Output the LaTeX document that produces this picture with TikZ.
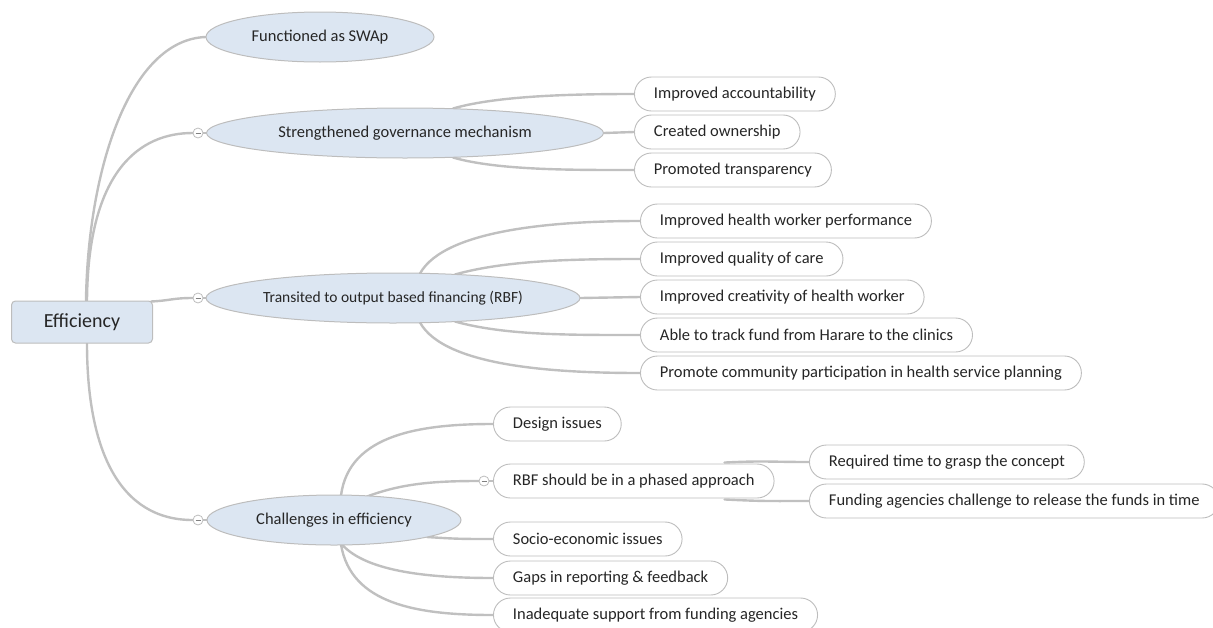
\documentclass[tikz,border=0pt]{standalone}
\usepackage{fontspec}
\setmainfont{Carlito}
\usetikzlibrary{shapes.geometric}
\definecolor{nodefill}{HTML}{DCE6F2}
\definecolor{nodeline}{HTML}{BDBDBD}
\definecolor{conncol}{HTML}{C0C0C0}
\definecolor{txt}{HTML}{262626}
\pgfdeclarelayer{bg}
\pgfsetlayers{bg,main}
\tikzset{
  rootbox/.style={rectangle, rounded corners=4pt, draw=nodeline, line width=1pt, fill=nodefill,
    minimum width=141pt, minimum height=42pt, inner sep=0pt, text=txt, font=\fontsize{20}{24}\selectfont},
  mainell/.style={ellipse, draw=nodeline, line width=1pt, fill=nodefill, minimum height=50pt,
    inner sep=0pt, text=txt, font=\fontsize{16.5}{20}\selectfont},
  leaf/.style={rectangle, rounded corners=17pt, draw=nodeline, line width=0.9pt, fill=white,
    minimum height=34pt, inner xsep=19.5pt, inner ysep=0pt, anchor=west, text=txt,
    font=\fontsize{16.5}{20}\selectfont},
  collapse/.style={circle, draw=nodeline, line width=0.8pt, fill=white, minimum size=10pt, inner sep=0pt,
    path picture={\draw[gray, line width=0.7pt] ([xshift=-2.5pt]path picture bounding box.center) -- ([xshift=2.5pt]path picture bounding box.center);}},
  conn/.style={draw=conncol, line width=2.4pt, line cap=round}
}
\begin{document}
\begin{tikzpicture}[x=1pt, y=-1pt]
\useasboundingbox (0,0) rectangle (1213,627);

% root
\node[rootbox] (root) at (82,322) {Efficiency};

% main branches
\node[mainell, minimum width=228pt] (swap) at (320,37) {\makebox[0pt]{Functioned as SWAp}};
\node[mainell, minimum width=397pt] (gov) at (405,133) {\makebox[0pt]{Strengthened governance mechanism}};
\node[mainell, minimum width=374pt, font=\fontsize{15.5}{19}\selectfont] (rbf) at (393,298) {\makebox[0pt]{Transited to output based financing (RBF)}};
\node[mainell, minimum width=254pt] (chal) at (334,520) {\makebox[0pt]{Challenges in efficiency}};

% collapse markers
\node[collapse] (cg) at (198,133) {};
\node[collapse] (cr) at (198,298) {};
\node[collapse] (cc) at (198,520) {};
\node[collapse] (cp) at (484,481) {};

% governance leaves
\node[leaf] (acc) at (634,94) {Improved accountability};
\node[leaf] (own) at (634,132) {Created ownership};
\node[leaf] (tra) at (634,170) {Promoted transparency};

% rbf leaves
\node[leaf] (hwp) at (640,221) {Improved health worker performance};
\node[leaf] (qoc) at (640,259) {Improved quality of care};
\node[leaf] (cre) at (640,297) {Improved creativity of health worker};
\node[leaf] (trk) at (640,335) {Able to track fund from Harare to the clinics};
\node[leaf] (com) at (640,373) {Promote community participation in health service planning};

% challenges leaves
\node[leaf] (des) at (493,424) {Design issues};
\node[leaf] (pha) at (493,481) {RBF should be in a phased approach};
\node[leaf] (soc) at (493,539) {Socio-economic issues};
\node[leaf] (gap) at (493,578) {Gaps in reporting \& feedback};
\node[leaf] (ina) at (493,615) {Inadequate support from funding agencies};

% phased leaves
\node[leaf] (req) at (809,462) {Required time to grasp the concept};
\node[leaf] (fun) at (809,501) {Funding agencies challenge to release the funds in time};

\begin{pgfonlayer}{bg}
% root connectors
\draw[conn] ([xshift=4pt]root.north) .. controls +(2,-131) and +(-76,3) .. (swap.west);
\draw[conn] ([xshift=5pt]root.north) .. controls +(1,-131) and +(-52,0) .. (cg.west);
\draw[conn] ([xshift=-2pt,yshift=-1pt]root.north east) .. controls +(20,-1) and +(-20,0) .. (cr.west);
\draw[conn] ([xshift=5pt]root.south) .. controls +(0,107) and +(-73,0) .. (cc.west);

% governance
\draw[conn] ([xshift=48pt,yshift=-1pt]gov.north) .. controls +(45,-13) and +(-60,0) .. (acc.west);
\draw[conn] (gov.east) -- (own.west);
\draw[conn] ([xshift=48pt,yshift=1pt]gov.south) .. controls +(45,13) and +(-60,0) .. (tra.west);

% rbf
\draw[conn] ([xshift=27pt,yshift=-1pt]rbf.north) .. controls +(25,-45) and +(-80,0) .. (hwp.west);
\draw[conn] ([xshift=62pt,yshift=-2pt]rbf.north) .. controls +(50,-14) and +(-70,0) .. (qoc.west);
\draw[conn] (rbf.east) -- (cre.west);
\draw[conn] ([xshift=62pt,yshift=2pt]rbf.south) .. controls +(50,14) and +(-70,0) .. (trk.west);
\draw[conn] ([xshift=27pt,yshift=1pt]rbf.south) .. controls +(25,45) and +(-80,0) .. (com.west);

% challenges
\draw[conn] (cc.east) -- (chal.west);
\draw[conn] (cg.east) -- (gov.west);
\draw[conn] (cr.east) -- (rbf.west);
\draw[conn] ([xshift=7pt,yshift=-1pt]chal.north) .. controls +(8,-62) and +(-70,0) .. (des.west);
\draw[conn] ([xshift=33pt,yshift=-2pt]chal.north) .. controls +(35,-13) and +(-45,0) .. (cp.west);
\draw[conn] (cp.east) -- (pha.west);
\draw[conn] ([xshift=93pt,yshift=-17pt]chal.center) .. controls +(30,2) and +(-30,0) .. (soc.west);
\draw[conn] ([xshift=8pt,yshift=1pt]chal.south) .. controls +(25,28) and +(-60,0) .. (gap.west);
\draw[conn] ([xshift=7pt,yshift=1pt]chal.south) .. controls +(10,60) and +(-75,0) .. (ina.west);

% phased
\draw[conn] ([xshift=-50pt,yshift=1pt]pha.north east) .. controls +(40,-2) and +(-40,0) .. (req.west);
\draw[conn] ([xshift=-50pt,yshift=-1pt]pha.south east) .. controls +(40,2) and +(-40,0) .. (fun.west);
\end{pgfonlayer}
\end{tikzpicture}
\end{document}
